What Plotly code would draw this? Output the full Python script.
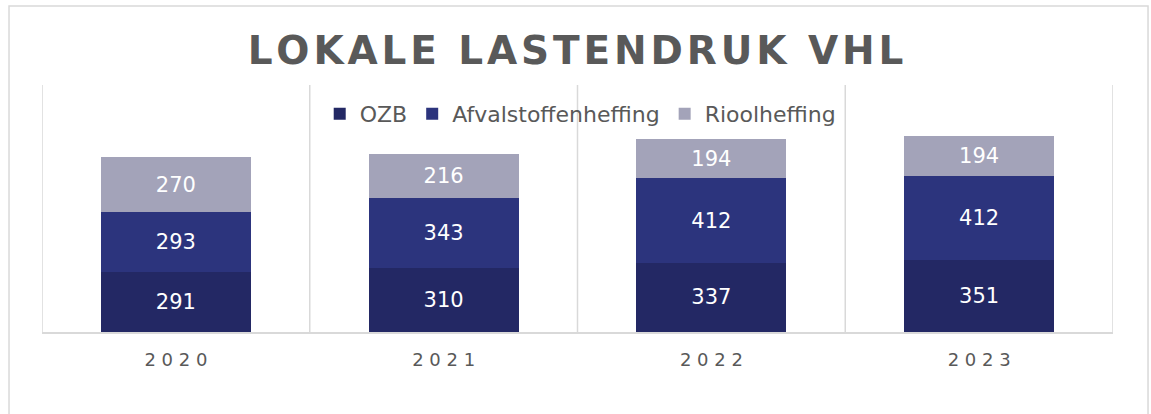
import plotly.graph_objects as go

title_text = "LOKALE LASTENDRUK VHL"
years = ["2020", "2021", "2022", "2023"]
ozb = [291, 310, 337, 351]
afval = [293, 343, 412, 412]
riool = [270, 216, 194, 194]

series_names = ["OZB", "Afvalstoffenheffing", "Rioolheffing"]
series_values = [ozb, afval, riool]
series_colors = ["#232864", "#2c347d", "#a3a3b9"]

fig = go.Figure()
for name, vals, col in zip(series_names, series_values, series_colors):
    fig.add_trace(go.Bar(
        x=years, y=vals, name=name,
        marker=dict(color=col, line=dict(width=0)),
        text=[str(v) for v in vals], textposition="inside",
        insidetextanchor="middle",
        textfont=dict(color="white", size=21, family="DejaVu Sans"),
        width=0.56,
    ))

grid = "#d9d9d9"
shapes = []
for i in range(len(years) + 1):
    shapes.append(dict(type="line", xref="x", yref="paper", x0=i - 0.5, x1=i - 0.5,
                       y0=0, y1=1, line=dict(color=grid, width=1.5), layer="below"))
shapes.append(dict(type="rect", xref="paper", yref="paper", x0=-0.0308, x1=1.0327,
                   y0=-0.345, y1=1.3198, line=dict(color=grid, width=1.5)))

spaced_title = "\u200a".join(title_text)

fig.update_layout(
    width=1151, height=414,
    margin=dict(l=42, r=38, t=85, b=82),
    paper_bgcolor="white", plot_bgcolor="white",
    barmode="stack", bargap=0.44,
    title=dict(text="<b>" + spaced_title + "</b>", x=0.5, xanchor="center",
               y=1 - 50 / 414, yanchor="middle",
               font=dict(family="DejaVu Sans", size=39, color="#595959")),
    legend=dict(orientation="h", x=0.503, xanchor="center", y=0.883, yanchor="middle",
                bgcolor="rgba(0,0,0,0)", traceorder="normal",
                font=dict(family="DejaVu Sans", size=22, color="#595959")),
    xaxis=dict(type="category", showline=True, linecolor=grid, linewidth=1.5,
               showgrid=False, ticks="", tickmode="array", tickvals=years,
               ticktext=[" ".join(y) for y in years], ticklabelstandoff=11,
               tickfont=dict(family="DejaVu Sans", size=18, color="#595959"),
               range=[-0.5, 3.5]),
    yaxis=dict(range=[0, 1205], visible=False, showgrid=False),
    shapes=shapes,
    uniformtext=dict(mode="show", minsize=10),
)

fig.write_html("out.html", config={"displayModeBar": False},
               post_script="document.body.style.margin='0';")
